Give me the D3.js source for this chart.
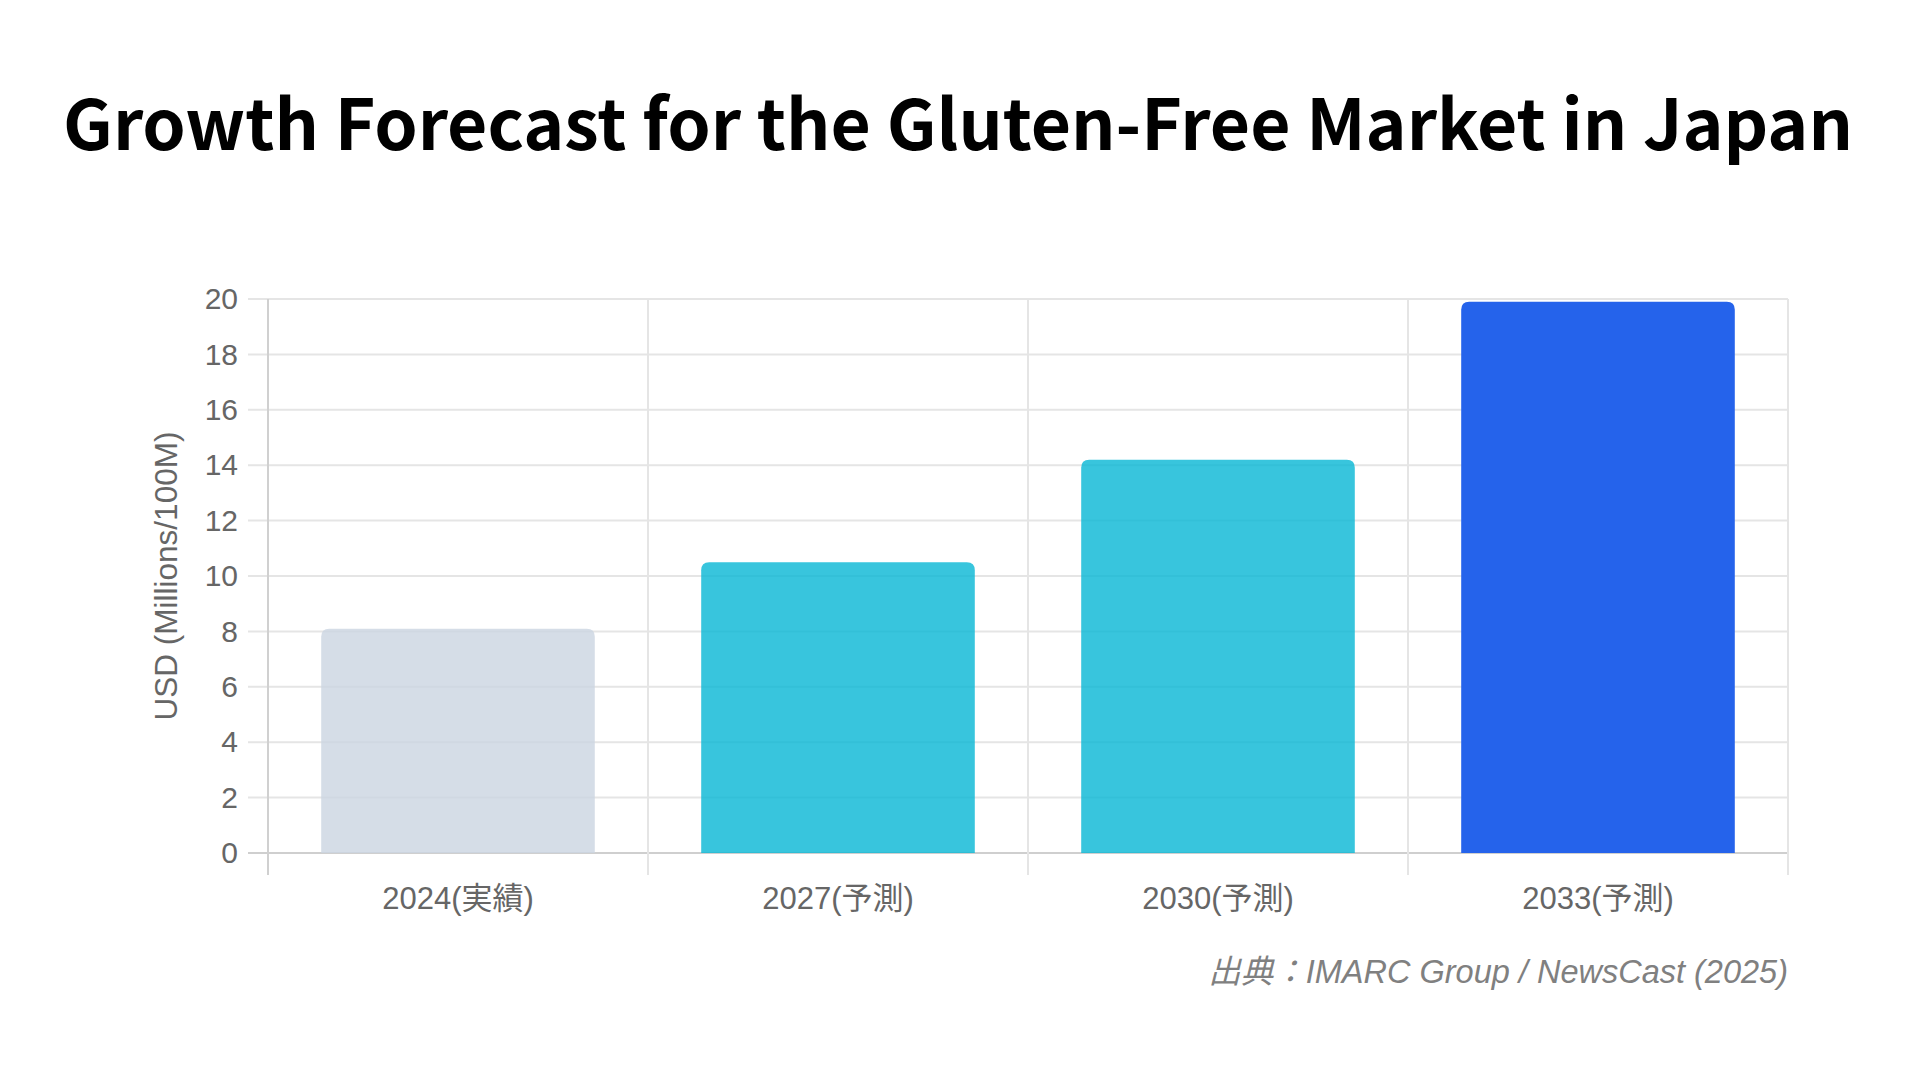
<!DOCTYPE html>
<html>
<head>
<meta charset="utf-8">
<script src="https://cdn.jsdelivr.net/npm/d3@7"></script>
<style>
  html, body { margin: 0; padding: 0; background: #fff; }
  svg { display: block; }
</style>
</head>
<body>
<svg id="chart" width="1920" height="1080"></svg>
<script>
const titleText = "Growth Forecast for the Gluten-Free Market in Japan";
const categories = ["2024(実績)", "2027(予測)", "2030(予測)", "2033(予測)"];
const values = [8.1, 10.5, 14.2, 19.9];
const barColors = ["rgba(203,213,225,0.8)", "rgba(6,182,212,0.8)", "rgba(6,182,212,0.8)", "#2563eb"];
const yTicks = [0, 2, 4, 6, 8, 10, 12, 14, 16, 18, 20];
const yTitle = "USD (Millions/100M)";
const sourceText = "出典：IMARC Group / NewsCast (2025)";

const svg = d3.select("#chart");
const L = 268, R = 1788, T = 299, B = 853;

svg.append("text")
  .attr("x", 958).attr("y", 150)
  .attr("text-anchor", "middle")
  .attr("font-family", "'Noto Sans CJK JP', 'Noto Sans', sans-serif")
  .attr("font-weight", 700)
  .attr("font-size", 69.5)
  .attr("fill", "#000")
  .text(titleText);

const x = d3.scaleBand().domain(categories).range([L, R]).paddingInner(0.28).paddingOuter(0.14);
const xCells = d3.scaleBand().domain(categories).range([L, R]).padding(0);
const y = d3.scaleLinear().domain([0, 20]).range([B, T]);

// horizontal grid
svg.append("g").selectAll("line").data(yTicks).join("line")
  .attr("x1", L - 20).attr("x2", R)
  .attr("y1", d => y(d)).attr("y2", d => y(d))
  .attr("stroke", d => d === 0 ? "#cfcfcf" : "#e5e5e5")
  .attr("stroke-width", 2);

// vertical grid
const vlines = categories.map(c => xCells(c)).concat([R]);
svg.append("g").selectAll("line").data(vlines).join("line")
  .attr("x1", d => d).attr("x2", d => d)
  .attr("y1", T).attr("y2", B + 22)
  .attr("stroke", (d, i) => i === 0 ? "#d0d0d0" : "#e5e5e5")
  .attr("stroke-width", 2);

// bars with rounded top corners
const r = 8;
svg.append("g").selectAll("path").data(values).join("path")
  .attr("d", (v, i) => {
    const x0 = x(categories[i]), x1 = x0 + x.bandwidth();
    const y0 = y(v), y1 = y(0);
    return `M${x0},${y1}L${x0},${y0 + r}Q${x0},${y0} ${x0 + r},${y0}L${x1 - r},${y0}Q${x1},${y0} ${x1},${y0 + r}L${x1},${y1}Z`;
  })
  .attr("fill", (v, i) => barColors[i]);

// y axis labels
const yAxis = d3.axisLeft(y).tickValues(yTicks).tickSize(0).tickPadding(30);
const gy = svg.append("g").attr("transform", `translate(${L},0)`).call(yAxis);
gy.select(".domain").remove();
gy.selectAll("text")
  .attr("font-family", "'Liberation Sans', Arial, sans-serif")
  .attr("font-size", 30).attr("fill", "#666");

// x axis labels
const xAxis = d3.axisBottom(x).tickSize(0).tickPadding(34);
const gx = svg.append("g").attr("transform", `translate(0,${B})`).call(xAxis);
gx.select(".domain").remove();
gx.selectAll("text")
  .attr("font-family", "'Liberation Sans', Arial, 'Noto Sans CJK JP', sans-serif")
  .attr("font-size", 31).attr("fill", "#666");

// y title
svg.append("text")
  .attr("transform", `translate(177,${(T + B) / 2}) rotate(-90)`)
  .attr("text-anchor", "middle")
  .attr("font-family", "'Liberation Sans', Arial, sans-serif")
  .attr("font-size", 31.5).attr("fill", "#666")
  .text(yTitle);

// source
svg.append("text")
  .attr("x", R).attr("y", 983)
  .attr("text-anchor", "end")
  .attr("font-family", "'Liberation Sans', Arial, 'Noto Sans CJK JP', sans-serif")
  .attr("font-style", "italic")
  .attr("font-size", 32.5).attr("fill", "#808080")
  .text(sourceText);
</script>
</body>
</html>
